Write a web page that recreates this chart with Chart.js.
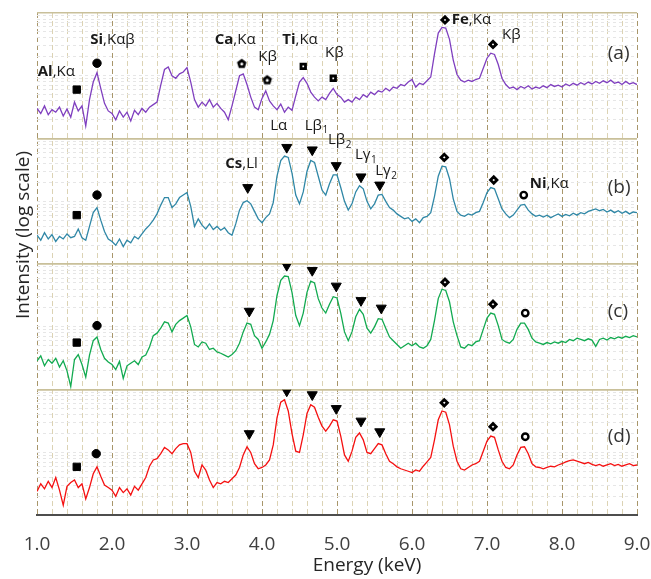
<!DOCTYPE html>
<html>
<head>
<meta charset="utf-8">
<script src="https://cdn.jsdelivr.net/npm/chart.js@4.4.0/dist/chart.umd.min.js"></script>
<style>
  html, body { margin: 0; padding: 0; background: #fff; }
  canvas { display: block; }
</style>
</head>
<body>
<canvas id="spectra" width="651" height="579"></canvas>
<script>
// energy sampling of the spectra: 1.00 .. 9.00 keV every 0.05 keV
const energy = [];
for (let i = 0; i <= 160; i++) energy.push(Math.round((1 + i * 0.05) * 100) / 100);

// log10(intensity), one value per energy step
const logIntensityA = [
  1.48, 1.40, 1.52, 1.38, 1.46, 1.42, 1.50, 1.36, 1.47, 1.34,
  1.58, 1.44, 1.52, 1.20, 1.62, 1.90, 2.05, 1.80, 1.56, 1.44,
  1.40, 1.30, 1.44, 1.34, 1.42, 1.28, 1.45, 1.38, 1.48, 1.42,
  1.50, 1.54, 1.58, 1.85, 2.10, 2.14, 2.00, 1.96, 2.03, 2.06,
  2.13, 1.90, 1.62, 1.50, 1.58, 1.52, 1.62, 1.50, 1.56, 1.48,
  1.42, 1.30, 1.52, 1.76, 2.00, 2.03, 1.86, 1.66, 1.50, 1.46,
  1.64, 1.76, 1.60, 1.52, 1.46, 1.55, 1.42, 1.50, 1.45, 1.68,
  1.90, 1.97, 1.88, 1.74, 1.66, 1.60, 1.66, 1.62, 1.72, 1.80,
  1.70, 1.66, 1.58, 1.62, 1.58, 1.66, 1.62, 1.70, 1.66, 1.74,
  1.70, 1.76, 1.74, 1.80, 1.76, 1.82, 1.80, 1.86, 1.84, 1.90,
  1.94, 1.82, 1.88, 1.86, 1.92, 1.98, 2.35, 2.68, 2.77, 2.76,
  2.58, 2.25, 2.02, 1.93, 1.90, 1.93, 1.91, 1.94, 1.96, 2.12,
  2.28, 2.36, 2.34, 2.18, 1.96, 1.86, 1.80, 1.82, 1.78, 1.83,
  1.80, 1.84, 1.79, 1.82, 1.80, 1.84, 1.81, 1.86, 1.83, 1.85,
  1.82, 1.87, 1.84, 1.88, 1.85, 1.89, 1.86, 1.90, 1.87, 1.91,
  1.88, 1.92, 1.89, 1.93, 1.88, 1.90, 1.86, 1.91, 1.87, 1.89,
  1.86
];
const logIntensityB = [
  1.46, 1.38, 1.50, 1.40, 1.47, 1.36, 1.44, 1.40, 1.48, 1.42,
  1.44, 1.56, 1.42, 1.38, 1.60, 1.82, 1.90, 1.70, 1.52, 1.40,
  1.36, 1.30, 1.40, 1.28, 1.38, 1.34, 1.44, 1.40, 1.48, 1.56,
  1.62, 1.70, 1.80, 1.94, 2.06, 2.06, 1.90, 1.96, 2.06, 2.10,
  2.14, 1.92, 1.60, 1.72, 1.62, 1.56, 1.64, 1.55, 1.60, 1.54,
  1.58, 1.50, 1.46, 1.64, 1.86, 1.98, 2.01, 1.96, 1.84, 1.72,
  1.66, 1.74, 1.80, 1.98, 2.40, 2.65, 2.72, 2.70, 2.45, 2.10,
  1.96, 2.15, 2.48, 2.65, 2.62, 2.40, 2.18, 2.10, 2.28, 2.42,
  2.42, 2.22, 2.00, 1.86, 1.96, 2.15, 2.25, 2.20, 2.00, 1.88,
  1.96, 2.10, 2.11, 2.00, 1.90, 1.86, 1.80, 1.76, 1.72, 1.74,
  1.68, 1.72, 1.66, 1.74, 1.76, 1.82, 2.08, 2.40, 2.56, 2.55,
  2.36, 2.04, 1.84, 1.78, 1.76, 1.80, 1.78, 1.82, 1.84, 1.98,
  2.14, 2.22, 2.20, 2.04, 1.88, 1.80, 1.74, 1.78, 1.86, 1.94,
  1.95, 1.86, 1.80, 1.76, 1.78, 1.75, 1.78, 1.74, 1.77, 1.80,
  1.76, 1.79, 1.77, 1.81, 1.78, 1.82, 1.80, 1.84, 1.86, 1.88,
  1.85, 1.87, 1.83, 1.86, 1.82, 1.85, 1.81, 1.84, 1.80, 1.83,
  1.82
];
const logIntensityC = [
  1.46, 1.54, 1.38, 1.48, 1.42, 1.50, 1.36, 1.46, 1.30, 1.05,
  1.48, 1.56, 1.40, 1.20, 1.55, 1.78, 1.84, 1.64, 1.50, 1.44,
  1.40, 1.32, 1.45, 1.18, 1.38, 1.42, 1.46, 1.40, 1.52, 1.55,
  1.68, 1.86, 1.90, 1.98, 2.08, 2.06, 1.92, 2.04, 2.10, 2.14,
  2.18, 2.00, 1.72, 1.68, 1.76, 1.74, 1.64, 1.66, 1.60, 1.58,
  1.55, 1.52, 1.56, 1.62, 1.74, 1.92, 2.06, 2.04, 1.86, 1.80,
  1.66, 1.76, 1.88, 2.10, 2.50, 2.74, 2.81, 2.80, 2.55, 2.18,
  2.02, 2.22, 2.55, 2.73, 2.70, 2.45, 2.30, 2.22, 2.36, 2.48,
  2.46, 2.22, 1.92, 1.78, 1.92, 2.16, 2.28, 2.20, 1.98, 1.90,
  2.00, 2.13, 2.12, 1.98, 1.84, 1.78, 1.72, 1.66, 1.70, 1.74,
  1.70, 1.74, 1.68, 1.66, 1.70, 1.80, 2.10, 2.45, 2.60, 2.58,
  2.40, 2.08, 1.86, 1.68, 1.66, 1.72, 1.70, 1.76, 1.78, 1.96,
  2.14, 2.22, 2.20, 2.02, 1.80, 1.76, 1.74, 1.80, 1.96, 2.06,
  2.06, 1.96, 1.82, 1.76, 1.74, 1.72, 1.75, 1.73, 1.76, 1.74,
  1.77, 1.75, 1.80, 1.78, 1.82, 1.80, 1.78, 1.81, 1.79, 1.69,
  1.80, 1.82, 1.79, 1.83, 1.81, 1.84, 1.82, 1.85, 1.83, 1.86,
  1.84
];
const logIntensityD = [
  1.38, 1.50, 1.42, 1.54, 1.44, 1.60, 1.40, 1.16, 1.46, 1.52,
  1.56, 1.44, 1.50, 1.26, 1.44, 1.66, 1.77, 1.62, 1.48, 1.44,
  1.40, 1.30, 1.44, 1.36, 1.42, 1.32, 1.46, 1.40, 1.50, 1.60,
  1.78, 1.88, 1.90, 1.98, 2.08, 2.04, 1.98, 2.06, 2.12, 2.14,
  2.14, 2.00, 1.70, 1.60, 1.80, 1.72, 1.56, 1.44, 1.52, 1.50,
  1.54, 1.52, 1.58, 1.64, 1.76, 1.96, 2.09, 2.00, 1.82, 1.74,
  1.76, 1.80, 1.88, 2.12, 2.55, 2.80, 2.84, 2.66, 2.30, 2.02,
  2.00, 2.28, 2.62, 2.76, 2.72, 2.56, 2.42, 2.34, 2.42, 2.52,
  2.50, 2.26, 1.96, 1.86, 2.02, 2.24, 2.31, 2.20, 2.00, 1.98,
  2.06, 2.14, 2.12, 1.98, 1.86, 1.82, 1.77, 1.74, 1.72, 1.70,
  1.68, 1.72, 1.70, 1.78, 1.85, 1.92, 2.20, 2.52, 2.66, 2.64,
  2.44, 2.10, 1.86, 1.74, 1.72, 1.76, 1.80, 1.82, 1.86, 2.02,
  2.18, 2.26, 2.24, 2.04, 1.86, 1.76, 1.74, 1.80, 1.96, 2.08,
  2.09, 1.98, 1.82, 1.77, 1.76, 1.74, 1.76, 1.78, 1.77, 1.80,
  1.82, 1.85, 1.87, 1.88, 1.86, 1.84, 1.82, 1.84, 1.81, 1.79,
  1.81, 1.78, 1.80, 1.82, 1.79, 1.81, 1.78, 1.80, 1.82, 1.79,
  1.80
];

// peak markers: [energy keV, log10 level, element]
const markersA = [[1.53, 1.78, 'Al'], [1.80, 2.20, 'Si'], [3.73, 2.20, 'Ca'], [4.07, 1.94, 'Ca'],
  [4.55, 2.15, 'Ti'], [4.95, 1.96, 'Ti'], [6.44, 2.89, 'Fe'], [7.08, 2.50, 'Fe']];
const markersB = [[1.53, 1.78, 'Al'], [1.80, 2.10, 'Si'], [3.81, 2.22, 'Cs'], [4.33, 2.86, 'Cs'],
  [4.67, 2.82, 'Cs'], [4.99, 2.57, 'Cs'], [5.32, 2.39, 'Cs'], [5.57, 2.26, 'Cs'],
  [6.43, 2.70, 'Fe'], [7.09, 2.34, 'Fe'], [7.49, 2.10, 'Ni']];
const markersC = [[1.53, 1.75, 'Al'], [1.80, 2.02, 'Si'], [3.83, 2.25, 'Cs'], [4.33, 2.98, 'Cs'],
  [4.67, 2.90, 'Cs'], [4.99, 2.65, 'Cs'], [5.32, 2.42, 'Cs'], [5.59, 2.30, 'Cs'],
  [6.44, 2.71, 'Fe'], [7.08, 2.36, 'Fe'], [7.51, 2.22, 'Ni']];
const markersD = [[1.53, 1.77, 'Al'], [1.79, 1.98, 'Si'], [3.83, 2.30, 'Cs'], [4.33, 2.98, 'Cs'],
  [4.67, 2.92, 'Cs'], [4.99, 2.70, 'Cs'], [5.32, 2.50, 'Cs'], [5.57, 2.33, 'Cs'],
  [6.43, 2.79, 'Fe'], [7.08, 2.41, 'Fe'], [7.51, 2.25, 'Ni']];

// line labels: [energy, log10 level, bold part, text, subscript]
const labelsA = [
  [1.01, 2.07, 'Al', ',Kα'], [1.71, 2.57, 'Si', ',Kαβ'], [3.37, 2.57, 'Ca', ',Kα'],
  [3.95, 2.30, '', 'Kβ'], [4.27, 2.57, 'Ti', ',Kα'], [4.84, 2.36, '', 'Kβ'],
  [6.53, 2.90, 'Fe', ',Kα'], [7.20, 2.65, '', 'Kβ'],
  [4.11, 1.21, '', 'Lα'], [4.57, 1.21, '', 'Lβ', '1']
];
const labelsB = [
  [4.88, 2.98, '', 'Lβ', '2'], [5.24, 2.74, '', 'Lγ', '1'], [5.51, 2.48, '', 'Lγ', '2'],
  [3.51, 2.60, 'Cs', ',Ll'], [7.57, 2.28, 'Ni', ',Kα']
];
const labelsC = [];
const labelsD = [];

const panelTags = ['(a)', '(b)', '(c)', '(d)'];
const tagLevels = [2.36, 2.22, 2.25, 2.25];
const gridLevels = [10, 20, 30, 40, 50, 60, 70, 80, 90, 100, 200, 300, 400, 500, 600, 700, 800, 900, 1000];

function makePentagon() {
  const c = document.createElement('canvas');
  c.width = 12; c.height = 12;
  const g = c.getContext('2d');
  g.beginPath();
  for (let k = 0; k < 5; k++) {
    const a = -Math.PI / 2 + k * 2 * Math.PI / 5;
    const px = 6 + 5 * Math.cos(a), py = 6.6 + 5 * Math.sin(a);
    if (k) g.lineTo(px, py); else g.moveTo(px, py);
  }
  g.closePath();
  g.fillStyle = '#000';
  g.fill();
  g.beginPath();
  g.arc(6, 6.8, 1.5, 0, 2 * Math.PI);
  g.fillStyle = '#fff';
  g.fill();
  return c;
}

const markerStyles = {
  Al: {style: 'rect', radius: 5.2, fill: '#000', border: 1, rotation: 0},
  Si: {style: 'circle', radius: 4.2, fill: '#000', border: 1, rotation: 0},
  Ca: {style: makePentagon(), radius: 5, fill: '#000', border: 0, rotation: 0},
  Ti: {style: 'rect', radius: 3.2, fill: '#fff', border: 2.8, rotation: 0},
  Fe: {style: 'rectRot', radius: 3.2, fill: '#fff', border: 2.8, rotation: 0},
  Cs: {style: 'triangle', radius: 5.8, fill: '#000', border: 1, rotation: 180},
  Ni: {style: 'circle', radius: 3.2, fill: '#fff', border: 2.4, rotation: 0}
};

const toCounts = v => Math.pow(10, v);

function spectrum(values, axis, color) {
  return {
    data: energy.map((e, i) => ({x: e, y: toCounts(values[i])})),
    yAxisID: axis,
    borderColor: color,
    borderWidth: 1.3,
    pointRadius: 0,
    tension: 0,
    fill: false
  };
}

function markerSet(list, axis) {
  const st = list.map(m => markerStyles[m[2]]);
  return {
    data: list.map(m => ({x: m[0], y: toCounts(m[1])})),
    yAxisID: axis,
    showLine: false,
    pointStyle: st.map(s => s.style),
    pointRadius: st.map(s => s.radius),
    pointRotation: st.map(s => s.rotation),
    pointBackgroundColor: st.map(s => s.fill),
    pointBorderColor: '#000',
    pointBorderWidth: st.map(s => s.border)
  };
}

const panels = [
  {axis: 'ya', labels: labelsA, weight: 4},
  {axis: 'yb', labels: labelsB, weight: 3},
  {axis: 'yc', labels: labelsC, weight: 2},
  {axis: 'yd', labels: labelsD, weight: 1}
];

function panelAxis(weight, last) {
  return {
    type: 'logarithmic',
    position: 'left',
    stack: 'panels',
    stackWeight: 1,
    weight: weight,
    min: 10,
    max: 1000,
    afterBuildTicks: axis => { axis.ticks = gridLevels.map(v => ({value: v})); },
    ticks: {display: false, autoSkip: false},
    border: {
      display: false,
      dash: ctx => (ctx.tick && (ctx.tick.value === 10 || ctx.tick.value === 1000)) ? [] : [3, 3]
    },
    grid: {
      drawTicks: false,
      color: ctx => {
        const v = ctx.tick ? ctx.tick.value : 0;
        if (v === 10 && last) return 'rgba(0,0,0,0)';
        if (v === 10 || v === 1000) return '#c9c09a';
        return '#e6e6e6';
      },
      lineWidth: ctx => (ctx.tick && (ctx.tick.value === 10 || ctx.tick.value === 1000)) ? 1.5 : 1
    }
  };
}

const annotationPlugin = {
  id: 'annotations',
  afterDatasetsDraw(chart) {
    const ctx = chart.ctx;
    const xs = chart.scales.x;
    ctx.save();
    ctx.fillStyle = '#1a1a1a';
    ctx.textBaseline = 'middle';
    ctx.textAlign = 'left';
    panels.forEach((p, k) => {
      const ys = chart.scales[p.axis];
      p.labels.forEach(([e, lv, bold, text, sub]) => {
        let px = xs.getPixelForValue(e);
        const py = ys.getPixelForValue(toCounts(lv));
        if (bold) {
          ctx.font = 'bold 15px "Open Sans"';
          ctx.fillText(bold, px, py);
          px += ctx.measureText(bold).width;
        }
        ctx.font = '15px "Open Sans"';
        ctx.fillText(text, px, py);
        px += ctx.measureText(text).width;
        if (sub) {
          ctx.font = '10px "Open Sans"';
          ctx.fillText(sub, px + 0.5, py + 5);
        }
      });
      ctx.font = '19px "Open Sans"';
      ctx.fillStyle = '#333';
      ctx.fillText(panelTags[k], xs.getPixelForValue(8.61), ys.getPixelForValue(toCounts(tagLevels[k])));
      ctx.fillStyle = '#1a1a1a';
    });
    ctx.restore();
  },
  afterDraw(chart) {
    const ctx = chart.ctx;
    ctx.save();
    ctx.fillStyle = '#262626';
    ctx.font = '19px "Open Sans"';
    ctx.textAlign = 'center';
    ctx.textBaseline = 'middle';
    ctx.fillText('Energy (keV)', 367, 566);
    ctx.translate(24, 235);
    ctx.rotate(-Math.PI / 2);
    ctx.fillText('Intensity (log scale)', 0, 0);
    ctx.restore();
  }
};

const scales = {
  x: {
    type: 'linear',
    min: 1,
    max: 9,
    afterFit: axis => { axis.paddingLeft = 0; axis.paddingRight = 0; },
    ticks: {
      stepSize: 0.2,
      autoSkip: false,
      maxRotation: 0,
      padding: 18,
      color: '#404040',
      font: {family: '"Open Sans"', size: 19},
      callback: v => {
        const r = Math.round(v * 10) / 10;
        return Math.abs(r - Math.round(r)) < 1e-6 ? r.toFixed(1) : '';
      }
    },
    border: {display: true, color: '#4d4d4d', width: 2, dash: [5, 3]},
    grid: {
      drawTicks: false,
      color: ctx => {
        const v = ctx.tick ? Math.round(ctx.tick.value * 10) / 10 : 0;
        return Math.abs(v - Math.round(v)) < 1e-6 ? '#a8966a' : '#dcd3b4';
      },
      lineWidth: 1
    }
  }
};
panels.forEach((p, k) => { scales[p.axis] = panelAxis(p.weight, k === panels.length - 1); });

new Chart(document.getElementById('spectra'), {
  type: 'line',
  data: {
    datasets: [
      spectrum(logIntensityA, 'ya', '#7f3fbf'),
      spectrum(logIntensityB, 'yb', '#2f87a6'),
      spectrum(logIntensityC, 'yc', '#12aa50'),
      spectrum(logIntensityD, 'yd', '#f51010'),
      markerSet(markersA, 'ya'),
      markerSet(markersB, 'yb'),
      markerSet(markersC, 'yc'),
      markerSet(markersD, 'yd')
    ]
  },
  options: {
    responsive: false,
    animation: false,
    events: [],
    devicePixelRatio: 1,
    layout: {padding: {left: 37, right: 14, top: 13, bottom: 5}},
    plugins: {legend: {display: false}, tooltip: {enabled: false}},
    scales: scales
  },
  plugins: [annotationPlugin]
});
</script>
</body>
</html>
